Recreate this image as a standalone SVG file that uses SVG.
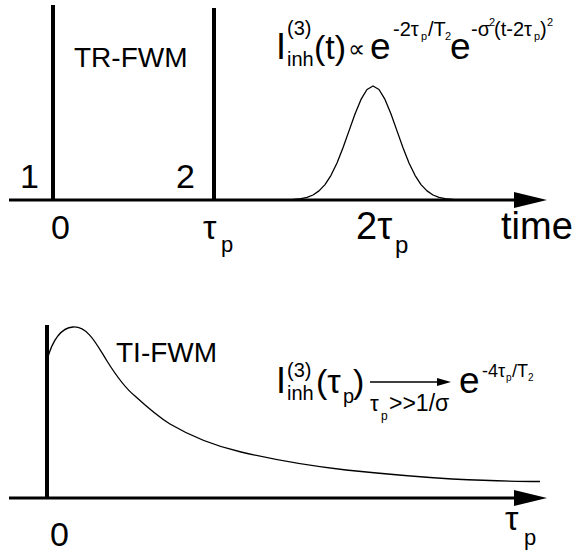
<svg xmlns="http://www.w3.org/2000/svg" width="579" height="554" viewBox="0 0 579 554">
<style>
text{font-family:"Liberation Sans",Arial,sans-serif;fill:#000}
.axis{stroke:#000;stroke-width:3;fill:none}
.pulse{stroke:#000;stroke-width:4;fill:none}
.curve{stroke:#000;stroke-width:1.3;fill:none;stroke-linejoin:round}
.big{font-size:36px}
.m{font-size:34px}
.e{font-size:37px}
.s{font-size:20px}
.xs{font-size:11px}
</style>
<rect width="579" height="554" fill="#fff"/>
<g id="connectors">
<line class="axis" x1="9" y1="200" x2="516" y2="200"/>
<polygon points="514,192 547,200 514,208" fill="#000"/>
<line class="axis" x1="9" y1="498" x2="516" y2="498"/>
<polygon points="514,490 547,498 514,506" fill="#000"/>
<line x1="370" y1="382" x2="440" y2="382" stroke="#000" stroke-width="1.5"/>
<polygon points="437,378 451,382 437,386" fill="#000"/>
</g>
<g id="pulse1"><line class="pulse" x1="53" y1="5" x2="53" y2="200"/></g>
<g id="pulse2"><line class="pulse" x1="214" y1="8" x2="214" y2="200"/></g>
<g id="echo"><polyline class="curve" points="289,200 301,198.7 307,197.4 313,195 319,190.9 325,184.6 331,175.3 337,163 343,147.8 349,130.9 355,114 361,99.4 367,89.5 373,86 379,89.5 385,99.4 391,114 397,130.9 403,147.8 409,163 415,175.3 421,184.6 427,190.9 433,195 439,197.4 445,198.7 457,200"/></g>
<g id="ti-curve">
<line class="pulse" x1="47" y1="325" x2="47" y2="498"/>
<path class="curve" d="M47,360 C52,342 60,328 73,327 C88,326 97,345 107,361 C117,377 125,388 135,396 C147,407 157,416 170,424 C192,437 215,446 241,452 C275,460 310,466 346,470 C385,474 420,477 452,479 C485,480.5 515,481.5 540,481.5"/>
</g>
<g id="labels-top">
<text x="74" y="67" font-size="28">TR-FWM</text>
<text x="20" y="188" class="m">1</text>
<text x="176" y="188" class="m">2</text>
<text x="51" y="239" class="m">0</text>
<text x="203" y="239" class="m">τ</text><text x="221" y="252" font-size="22">p</text>
<text x="356" y="239" font-size="38">2τ</text><text x="395" y="253" font-size="24">p</text>
<text x="501" y="239" font-size="38">time</text>
</g>
<g id="formula-top">
<text x="276" y="59" class="big">I</text>
<text x="287" y="35" class="s">(3)</text>
<text x="287" y="66" class="s">inh</text>
<text x="314" y="59" class="m">(t)</text>
<text x="348" y="57" font-size="24" style="font-family:'DejaVu Sans',sans-serif">∝</text>
<text x="370" y="59" class="e">e</text>
<text x="393" y="36" class="s">-2τ</text><text x="421" y="40" class="xs">p</text>
<text x="428" y="36" class="s">/T</text><text x="445" y="40" class="xs">2</text>
<text x="450" y="59" class="e">e</text>
<text x="471" y="36" class="s">-σ</text><text x="489" y="26" class="xs">2</text>
<text x="494" y="36" class="s">(t-2τ</text><text x="534" y="40" class="xs">p</text>
<text x="540" y="36" class="s">)</text><text x="547" y="26" class="xs">2</text>
</g>
<g id="labels-bottom">
<text x="116" y="362" font-size="28">TI-FWM</text>
<text x="50" y="546" class="m">0</text>
<text x="505" y="530" class="m">τ</text><text x="524" y="545" font-size="22">p</text>
</g>
<g id="formula-bottom">
<text x="276" y="393" class="big">I</text>
<text x="287" y="377" class="s">(3)</text>
<text x="287" y="400" class="s">inh</text>
<text x="316" y="393" class="m">(τ</text><text x="343" y="403" class="s">p</text>
<text x="353" y="393" class="m">)</text>
<text x="370" y="411" font-size="22">τ</text><text x="381" y="420" font-size="12">p</text>
<text x="389" y="411" font-size="23">&gt;&gt;1/σ</text>
<text x="459" y="393" class="e">e</text>
<text x="482" y="377" font-size="18">-4τ</text><text x="506" y="381" font-size="10">p</text>
<text x="512" y="377" font-size="18">/T</text><text x="528" y="381" font-size="10">2</text>
</g>
</svg>
